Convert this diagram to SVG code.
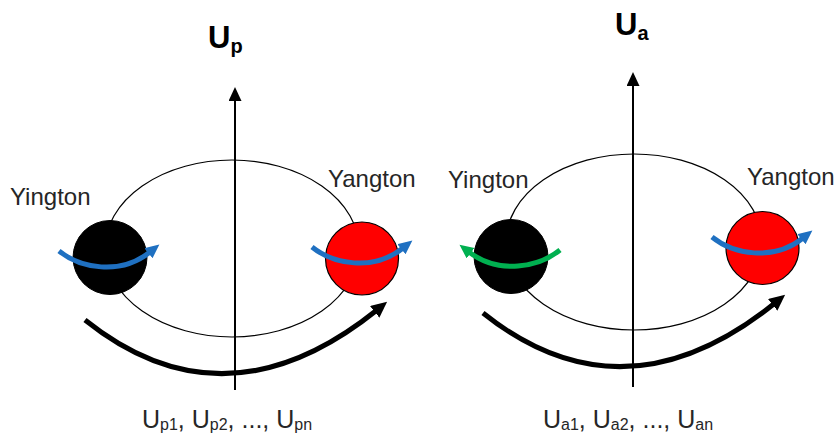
<svg xmlns="http://www.w3.org/2000/svg" width="839" height="439" viewBox="0 0 839 439">
<style>
  .orbit{fill:none;stroke:#000;stroke-width:1.2}
  .axis{fill:none;stroke:#000;stroke-width:2}
  .big{fill:none;stroke:#000;stroke-width:5;stroke-linecap:butt}
  .spinb{fill:none;stroke:#1F70C1;stroke-width:5}
  .sping{fill:none;stroke:#00B050;stroke-width:5}
  .yin{fill:#000;stroke:#000;stroke-width:1}
  .yang{fill:#FF0000;stroke:#000;stroke-width:1.2}
  .lbl{font-family:"Liberation Sans",Arial,sans-serif;font-size:24px;fill:#262626}
  .ttl{font-family:"Liberation Sans",Arial,sans-serif;font-weight:bold;fill:#000}
  .sub{font-family:"Liberation Sans",Arial,sans-serif;font-size:25px;fill:#262626}
  .s{font-size:16px}
</style>
<defs>
  <marker id="ahAxis" markerUnits="userSpaceOnUse" markerWidth="16" markerHeight="16" refX="2" refY="6.5" orient="auto">
    <path d="M0,0 L14,6.5 L0,13 z" fill="#000"/>
  </marker>
  <marker id="ahBig" markerUnits="userSpaceOnUse" markerWidth="20" markerHeight="20" refX="3" refY="7.5" orient="auto">
    <path d="M0,0 L16,7.5 L0,15 z" fill="#000"/>
  </marker>
  <marker id="ahBlue" markerUnits="userSpaceOnUse" markerWidth="16" markerHeight="16" refX="2" refY="6.5" orient="auto">
    <path d="M0,0 L14,6.5 L0,13 z" fill="#1F70C1"/>
  </marker>
  <marker id="ahGreen" markerUnits="userSpaceOnUse" markerWidth="16" markerHeight="16" refX="2" refY="6.5" orient="auto">
    <path d="M0,0 L14,6.5 L0,13 z" fill="#00B050"/>
  </marker>
</defs>

<!-- Left system: Up -->
<g id="orbit-p">
  <ellipse class="orbit" cx="232" cy="248.5" rx="127" ry="88.5"/>
</g>
<g id="axis-p">
  <line class="axis" x1="235" y1="390" x2="235" y2="99" marker-end="url(#ahAxis)"/>
</g>
<g id="title-p">
  <text class="ttl" x="208" y="48" font-size="31">U<tspan font-size="20" dy="5">p</tspan></text>
</g>
<g id="yington-p">
  <circle class="yin" cx="110" cy="257.5" r="37"/>
  <text class="lbl" x="10" y="205">Yington</text>
</g>
<g id="yangton-p">
  <circle class="yang" cx="362" cy="258.5" r="36.5"/>
  <text class="lbl" x="328" y="187">Yangton</text>
</g>

<!-- Right system: Ua -->
<g id="orbit-a">
  <ellipse class="orbit" cx="634" cy="242" rx="128" ry="88"/>
</g>
<g id="axis-a">
  <line class="axis" x1="633" y1="387" x2="633" y2="84" marker-end="url(#ahAxis)"/>
</g>
<g id="title-a">
  <text class="ttl" x="615" y="35" font-size="31">U<tspan font-size="20" dy="5">a</tspan></text>
</g>
<g id="yington-a">
  <circle class="yin" cx="511" cy="256.5" r="37"/>
  <text class="lbl" x="448" y="188">Yington</text>
</g>
<g id="yangton-a">
  <circle class="yang" cx="762.5" cy="248" r="36.5"/>
  <text class="lbl" x="747" y="185">Yangton</text>
</g>

<!-- Connectors / rotation arrows -->
<g id="connectors">
  <path class="spinb" d="M59,251 C80,268 120,276 150,252" marker-end="url(#ahBlue)"/>
  <path class="spinb" d="M312,247 C333,264 373,272 403,248" marker-end="url(#ahBlue)"/>
  <path class="big" d="M85,320 Q225,432 377,310" marker-end="url(#ahBig)"/>

  <path class="sping" d="M560,250 C539,267 499,275 469,252" marker-end="url(#ahGreen)"/>
  <path class="spinb" d="M712,237 C733,254 773,262 803,238" marker-end="url(#ahBlue)"/>
  <path class="big" d="M483,313 Q623,425 775,303" marker-end="url(#ahBig)"/>
</g>

<!-- Bottom labels -->
<g id="label-p">
  <text class="sub" x="142" y="428">U<tspan class="s" dy="2">p1</tspan><tspan dy="-2">, U</tspan><tspan class="s" dy="2">p2</tspan><tspan dy="-2">, ..., U</tspan><tspan class="s" dy="2">pn</tspan></text>
</g>
<g id="label-a">
  <text class="sub" x="543" y="428">U<tspan class="s" dy="2">a1</tspan><tspan dy="-2">, U</tspan><tspan class="s" dy="2">a2</tspan><tspan dy="-2">, ..., U</tspan><tspan class="s" dy="2">an</tspan></text>
</g>
</svg>
